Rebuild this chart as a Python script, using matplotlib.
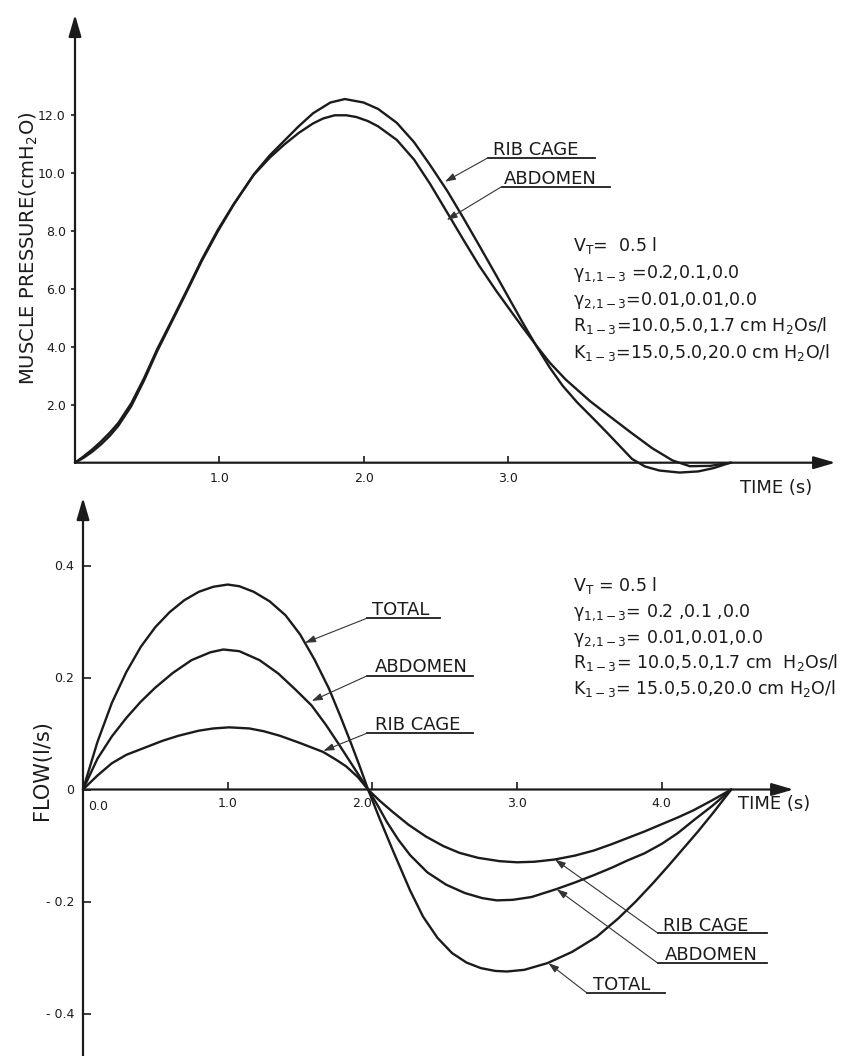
import matplotlib
matplotlib.use("Agg")
import matplotlib.pyplot as plt

plt.rcParams["font.family"] = ["DejaVu Sans"]
plt.rcParams["mathtext.default"] = "regular"
plt.rcParams["mathtext.fontset"] = "dejavusans"

INK = "#1b1b1b"

# ── Muscle pressure (cmH2O) vs time (s) ──
t_rib_p = [0, 0.06, 0.12, 0.18, 0.24, 0.30, 0.39, 0.48, 0.57, 0.68, 0.78, 0.88, 0.99, 1.10,
           1.24, 1.35, 1.45, 1.55, 1.65, 1.77, 1.87, 2.00, 2.10, 2.23, 2.35, 2.46, 2.58, 2.69,
           2.80, 2.92, 3.10, 3.20, 3.29, 3.38, 3.48, 3.60, 3.69, 3.78, 3.86, 3.95, 4.05, 4.19,
           4.32, 4.43, 4.54]
p_rib = [0, 0.17, 0.38, 0.63, 0.92, 1.27, 1.95, 2.85, 3.85, 4.95, 5.95, 6.97, 7.98, 8.90,
         9.95, 10.6, 11.1, 11.6, 12.05, 12.42, 12.54, 12.42, 12.2, 11.72, 11.05, 10.27, 9.37, 8.45,
         7.50, 6.45, 4.85, 4.00, 3.28, 2.65, 2.08, 1.48, 1.02, 0.55, 0.13, -0.13, -0.27, -0.34,
         -0.30, -0.18, 0]

t_abd_p = [0, 0.06, 0.12, 0.18, 0.24, 0.30, 0.39, 0.48, 0.57, 0.68, 0.78, 0.88, 0.99, 1.10,
           1.24, 1.35, 1.45, 1.55, 1.65, 1.72, 1.80, 1.88, 1.95, 2.03, 2.10, 2.23, 2.35, 2.46,
           2.58, 2.69, 2.80, 2.92, 3.09, 3.20, 3.29, 3.40, 3.57, 3.70, 3.85, 4.00, 4.14, 4.26,
           4.40, 4.55]
p_abd = [0, 0.22, 0.46, 0.73, 1.03, 1.37, 2.05, 2.93, 3.92, 5.00, 6.00, 7.02, 8.03, 8.92,
         9.93, 10.52, 10.97, 11.37, 11.70, 11.87, 11.98, 11.98, 11.92, 11.78, 11.60, 11.13, 10.45, 9.62,
         8.62, 7.70, 6.80, 5.92, 4.75, 4.02, 3.45, 2.87, 2.12, 1.62, 1.05, 0.50, 0.08, -0.12,
         -0.11, 0]

# ── Flow (l/s) vs time (s) ──
t_tot_f = [0, 0.10, 0.20, 0.30, 0.40, 0.50, 0.60, 0.70, 0.80, 0.90, 1.00, 1.08, 1.18, 1.29,
           1.40, 1.50, 1.60, 1.70, 1.78, 1.85, 1.91, 1.97, 2.05, 2.14, 2.26, 2.35, 2.45, 2.55,
           2.65, 2.75, 2.85, 2.93, 3.05, 3.21, 3.38, 3.55, 3.70, 3.82, 3.94, 4.05, 4.15, 4.25,
           4.36, 4.48]
f_tot = [0, 0.085, 0.155, 0.210, 0.255, 0.290, 0.317, 0.338, 0.353, 0.362, 0.366, 0.363, 0.353, 0.336,
         0.311, 0.277, 0.232, 0.180, 0.130, 0.084, 0.043, 0, -0.052, -0.108, -0.180, -0.227, -0.265, -0.292,
         -0.309, -0.319, -0.324, -0.325, -0.322, -0.310, -0.290, -0.263, -0.230, -0.200, -0.167, -0.135, -0.105, -0.075,
         -0.040, 0]

t_abd_f = [0, 0.10, 0.20, 0.30, 0.40, 0.50, 0.62, 0.75, 0.88, 0.97, 1.08, 1.22, 1.35, 1.47,
           1.58, 1.68, 1.77, 1.87, 1.97, 2.04, 2.10, 2.18, 2.26, 2.38, 2.51, 2.64, 2.76, 2.86,
           2.97, 3.10, 3.27, 3.40, 3.53, 3.66, 3.76, 3.88, 4.00, 4.11, 4.22, 4.35, 4.48]
f_abd = [0, 0.055, 0.095, 0.128, 0.157, 0.182, 0.208, 0.231, 0.245, 0.250, 0.247, 0.231, 0.207, 0.178,
         0.150, 0.115, 0.080, 0.040, 0, -0.030, -0.058, -0.090, -0.117, -0.148, -0.170, -0.185, -0.194, -0.198,
         -0.197, -0.192, -0.178, -0.166, -0.153, -0.139, -0.127, -0.114, -0.097, -0.078, -0.055, -0.029, 0]

t_rib_f = [0, 0.10, 0.20, 0.30, 0.43, 0.55, 0.66, 0.80, 0.90, 1.01, 1.15, 1.25, 1.36, 1.50,
           1.66, 1.75, 1.82, 1.90, 1.97, 2.05, 2.14, 2.25, 2.37, 2.49, 2.60, 2.73, 2.88, 3.00,
           3.12, 3.26, 3.40, 3.53, 3.65, 3.76, 3.88, 3.99, 4.11, 4.22, 4.35, 4.48]
f_rib = [0, 0.025, 0.047, 0.062, 0.075, 0.087, 0.096, 0.105, 0.109, 0.111, 0.109, 0.104, 0.096, 0.083,
         0.067, 0.053, 0.041, 0.022, 0, -0.020, -0.040, -0.063, -0.084, -0.101, -0.113, -0.122, -0.128, -0.130,
         -0.129, -0.125, -0.118, -0.109, -0.098, -0.087, -0.075, -0.063, -0.050, -0.037, -0.019, 0]

p_ticks = [2, 4, 6, 8, 10, 12]
p_ticklabels = ["2.0", "4.0", "6.0", "8.0", "10.0", "12.0"]
t_ticks_top = [1, 2, 3]
t_ticklabels_top = ["1.0", "2.0", "3.0"]
f_ticks = [-0.4, -0.2, 0, 0.2, 0.4]
f_ticklabels = ["- 0.4", "- 0.2", "0", "0.2", "0.4"]
t_ticks_bot = [1, 2, 3, 4]
t_ticklabels_bot = ["1.0", "2.0", "3.0", "4.0"]

params_top = ["V$_T$=  0.5 l",
              "γ$_{1{,}1-3}$ =0.2,0.1,0.0",
              "γ$_{2{,}1-3}$=0.01,0.01,0.0",
              "R$_{1-3}$=10.0,5.0,1.7 cm H$_2$Os/l",
              "K$_{1-3}$=15.0,5.0,20.0 cm H$_2$O/l"]
params_bot = ["V$_T$ = 0.5 l",
              "γ$_{1{,}1-3}$= 0.2 ,0.1 ,0.0",
              "γ$_{2{,}1-3}$= 0.01,0.01,0.0",
              "R$_{1-3}$= 10.0,5.0,1.7 cm  H$_2$Os/l",
              "K$_{1-3}$= 15.0,5.0,20.0 cm H$_2$O/l"]

W, H = 843, 1056
fig = plt.figure(figsize=(W / 100, H / 100), dpi=100)
fig.patch.set_facecolor("white")


def rect(x0, y0, x1, y1):
    return [x0 / W, 1 - y1 / H, (x1 - x0) / W, (y1 - y0) / H]


def setup(ax):
    for s in ax.spines.values():
        s.set_visible(False)
    ax.spines["left"].set_position(("data", 0))
    ax.spines["bottom"].set_position(("data", 0))
    ax.set_facecolor("none")


def axis_arrow(ax, start, end):
    ax.annotate("", xy=end, xytext=start,
                arrowprops=dict(arrowstyle="-|>,head_length=1.1,head_width=0.32",
                                lw=1.6, color=INK, shrinkA=0, shrinkB=0,
                                mutation_scale=12), annotation_clip=False)


def tag(ax, text, x, y, u0, u1, uy, tip, size=13):
    ax.text(x, y, text, fontsize=size, color=INK, ha="left", va="baseline")
    ax.plot([u0, u1], [uy, uy], color=INK, lw=1.3, clip_on=False)
    ax.annotate("", xy=tip, xytext=(u0, uy),
                arrowprops=dict(arrowstyle="-|>,head_length=0.9,head_width=0.3",
                                lw=0.8, color="#333333", shrinkA=0, shrinkB=0,
                                mutation_scale=7), annotation_clip=False)


def curve(ax, t, v):
    ax.plot(t, v, color=INK, lw=1.7, solid_joinstyle="round",
            solid_capstyle="round", clip_on=False)


# ══════════ top panel: muscle pressure ══════════
ax1 = fig.add_axes(rect(0, 0, W, 495))
ax1.set_xlim(-75 / 144.3, (W - 75) / 144.3)
ax1.set_ylim((462.7 - 495) / 29, 462.7 / 29)
setup(ax1)

curve(ax1, t_rib_p, p_rib)
curve(ax1, t_abd_p, p_abd)

axis_arrow(ax1, (0, 0), (5.27, 0))
axis_arrow(ax1, (0, 0), (0, 15.45))

ax1.set_xticks(t_ticks_top, t_ticklabels_top)
ax1.set_yticks(p_ticks, p_ticklabels)
ax1.tick_params(axis="x", direction="in", length=5, width=1.2, pad=7,
                labelsize=9, colors=INK)
ax1.tick_params(axis="y", direction="out", length=3, width=1.2, pad=3.6,
                labelsize=9, colors=INK)

ax1.text(-0.319, 7.40, "MUSCLE PRESSURE(cmH$_2$O)", rotation=90, fontsize=14,
         color=INK, ha="center", va="center")
ax1.text(4.608, -1.045, "TIME (s)", fontsize=13, color=INK, ha="left", va="baseline")

tag(ax1, "RIB CAGE", 2.90, 10.61, 2.864, 3.604, 10.52, (2.564, 9.69))
tag(ax1, "ABDOMEN", 2.97, 9.61, 2.957, 3.708, 9.52, (2.576, 8.37))

for i, line in enumerate(params_top):
    ax1.text(3.453, 7.30 - i * 0.925, line, fontsize=12.5, color=INK,
             ha="left", va="baseline")

# ══════════ bottom panel: flow ══════════
ax2 = fig.add_axes(rect(0, 495, W, H))
ax2.set_xlim(-83 / 144.7, (W - 83) / 144.7)
ax2.set_ylim((789.5 - H) / 560, (789.5 - 495) / 560)
setup(ax2)

curve(ax2, t_tot_f, f_tot)
curve(ax2, t_abd_f, f_abd)
curve(ax2, t_rib_f, f_rib)

axis_arrow(ax2, (0, 0), (4.91, 0))
axis_arrow(ax2, (0, (789.5 - H) / 560), (0, 0.521))

ax2.set_xticks(t_ticks_bot, t_ticklabels_bot)
ax2.set_yticks(f_ticks, f_ticklabels)
ax2.tick_params(axis="x", direction="in", length=6, width=1.2, pad=5.4,
                labelsize=9, colors=INK)
ax2.tick_params(axis="y", direction="in", length=6, width=1.2, pad=6.5,
                labelsize=9, colors=INK)
ax2.get_xticklabels()[1].set_horizontalalignment("right")
ax2.text(0.035, -0.0366, "0.0", fontsize=9, color=INK, ha="left", va="baseline")

ax2.text(-0.280, 0.035, "FLOW(l/s)", rotation=90, fontsize=15,
         color=INK, ha="center", va="center")
ax2.text(4.527, -0.0341, "TIME (s)", fontsize=13, color=INK, ha="left", va="baseline")

tag(ax2, "TOTAL", 1.997, 0.3118, 1.961, 2.467, 0.3057, (1.534, 0.262))
tag(ax2, "ABDOMEN", 2.018, 0.2105, 1.961, 2.695, 0.2027, (1.581, 0.158))
tag(ax2, "RIB CAGE", 2.018, 0.1064, 1.961, 2.695, 0.1004, (1.661, 0.069))

tag(ax2, "RIB CAGE", 4.008, -0.252, 3.974, 4.727, -0.2568, (3.262, -0.125))
tag(ax2, "ABDOMEN", 4.022, -0.3043, 3.974, 4.727, -0.3104, (3.274, -0.178))
tag(ax2, "TOTAL", 3.527, -0.3573, 3.483, 4.022, -0.3634, (3.216, -0.310))

for i, line in enumerate(params_bot):
    ax2.text(3.388, 0.3545 - i * 0.0461, line, fontsize=12.5, color=INK,
             ha="left", va="baseline")

fig.savefig("out.png", dpi=100, facecolor="white")
